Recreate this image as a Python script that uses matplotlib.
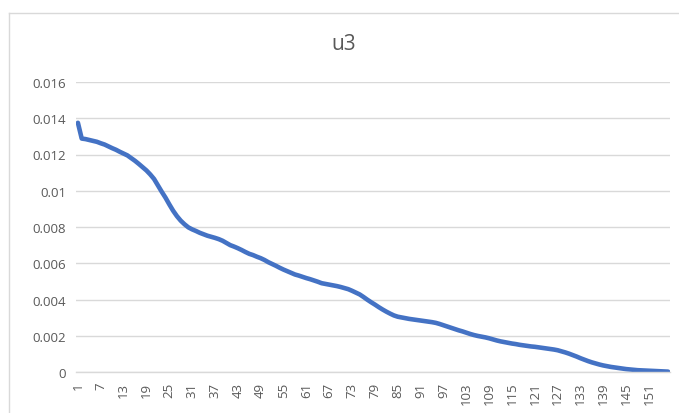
import matplotlib.pyplot as plt
import numpy as np
from matplotlib.lines import Line2D

# values (one per category 1..156)
u3 = [
    0.01375, 0.01288, 0.01285, 0.01280, 0.01275, 0.01270, 0.01262, 0.01255, 0.01245, 0.01235,
    0.01226, 0.01215, 0.01205, 0.01195, 0.01180, 0.01165, 0.01148, 0.01130, 0.01112, 0.01090,
    0.01065, 0.01030, 0.00995, 0.00962, 0.00925, 0.00890, 0.00860, 0.00835, 0.00815, 0.00798,
    0.00787, 0.00778, 0.00768, 0.00760, 0.00752, 0.00746, 0.00740, 0.00733, 0.00724, 0.00712,
    0.00700, 0.00692, 0.00683, 0.00673, 0.00662, 0.00652, 0.00645, 0.00636, 0.00628, 0.00618,
    0.00606, 0.00596, 0.00586, 0.00575, 0.00565, 0.00556, 0.00547, 0.00538, 0.00532, 0.00525,
    0.00518, 0.00512, 0.00505, 0.00498, 0.00490, 0.00486, 0.00482, 0.00478, 0.00474, 0.00469,
    0.00463, 0.00457, 0.00448, 0.00438, 0.00428, 0.00414, 0.00399, 0.00385, 0.00372, 0.00358,
    0.00345, 0.00333, 0.00322, 0.00312, 0.00305, 0.00301, 0.00297, 0.00293, 0.00290, 0.00287,
    0.00284, 0.00281, 0.00278, 0.00275, 0.00271, 0.00265, 0.00258, 0.00251, 0.00244, 0.00237,
    0.00230, 0.00224, 0.00217, 0.00210, 0.00204, 0.00199, 0.00195, 0.00191, 0.00186, 0.00180,
    0.00174, 0.00169, 0.00165, 0.00161, 0.00157, 0.00154, 0.00150, 0.00147, 0.00144, 0.00141,
    0.00139, 0.00136, 0.00133, 0.00130, 0.00127, 0.00124, 0.00120, 0.00114, 0.00108, 0.00101,
    0.00093, 0.00085, 0.00076, 0.00068, 0.00060, 0.00053, 0.00047, 0.00041, 0.00036, 0.00032,
    0.00028, 0.00025, 0.00022, 0.00019, 0.00016, 0.00014, 0.00012, 0.00010, 0.00009, 0.00008,
    0.00007, 0.00006, 0.00005, 0.00004, 0.00003, 0.00002,
]
x_ticks = list(range(1, 152, 6))
y_ticks = [0, 0.002, 0.004, 0.006, 0.008, 0.01, 0.012, 0.014, 0.016]
y_labels = ["0", "0.002", "0.004", "0.006", "0.008", "0.01", "0.012", "0.014", "0.016"]

plt.rcParams['font.family'] = ['Open Sans', 'DejaVu Sans']
grey = "#595959"
grid = "#d9d9d9"

fig = plt.figure(figsize=(6.79, 4.14), dpi=100)
ax = fig.add_axes([76 / 679, 1 - 373 / 414, 594 / 679, 290 / 414])

x = np.arange(1, len(u3) + 1)
ax.plot(x, u3, color="#4472c4", linewidth=3.3, solid_capstyle="round", solid_joinstyle="round")

ax.set_xlim(0.5, len(u3) + 0.5)
ax.set_ylim(0, 0.016)
ax.set_yticks(y_ticks)
ax.set_yticklabels(y_labels, color=grey, fontsize=9.5)
ax.set_xticks(x_ticks)
ax.set_xticklabels([str(t) for t in x_ticks], rotation=90, color=grey, fontsize=9.5)
ax.tick_params(length=0, pad=7)
ax.grid(axis="y", color=grid, linewidth=1)
ax.set_axisbelow(True)
for s in ["top", "right", "left"]:
    ax.spines[s].set_visible(False)
ax.spines["bottom"].set_color(grid)
ax.spines["bottom"].set_linewidth(1)

fig.text(344 / 679, 1 - 44 / 414, "u3", ha="center", va="center", fontsize=15, color=grey)

# chart frame
fig.add_artist(Line2D([9 / 679, 1], [1 - 14 / 414] * 2, color=grid, linewidth=1, transform=fig.transFigure))
fig.add_artist(Line2D([9 / 679] * 2, [0, 1 - 14 / 414], color=grid, linewidth=1, transform=fig.transFigure))

fig.savefig("out.png", dpi=100)
